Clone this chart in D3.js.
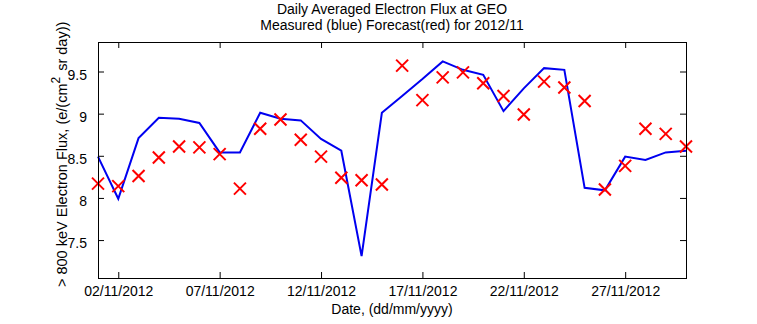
<!DOCTYPE html>
<html>
<head>
<meta charset="utf-8">
<script src="https://cdn.jsdelivr.net/npm/d3@7"></script>
<style>
  html, body { margin: 0; padding: 0; background: #fff; }
  svg { display: block; }
  text { font-family: "Liberation Sans", Arial, Helvetica, sans-serif; fill: #000; }
</style>
</head>
<body>
<svg id="chart" width="757" height="324"></svg>
<script>
// ---- data ----
const days = [1,2,3,4,5,6,7,8,9,10,11,12,13,14,15,16,17,18,19,20,21,22,23,24,25,26,27,28,29,30];
const measured = [8.49,7.99,8.71,8.95,8.94,8.89,8.54,8.54,9.01,8.94,8.92,8.70,8.56,7.31,9.01,9.21,9.41,9.62,9.52,9.46,9.03,9.30,9.54,9.52,8.12,8.09,8.49,8.45,8.54,8.56];
const forecast = [8.17,8.14,8.26,8.48,8.61,8.60,8.52,8.11,8.82,8.93,8.69,8.49,8.24,8.21,8.16,9.57,9.16,9.43,9.49,9.36,9.21,8.99,9.38,9.31,9.15,8.10,8.38,8.82,8.76,8.61];
const xTickDays = [2,7,12,17,22,27];
const xTickLabels = ["02/11/2012","07/11/2012","12/11/2012","17/11/2012","22/11/2012","27/11/2012"];
const yTicks = [7.5,8,8.5,9,9.5];
const yTickLabels = ["7.5","8","8.5","9","9.5"];
const titleLines = ["Daily Averaged Electron Flux at GEO","Measured (blue) Forecast(red) for 2012/11"];
const xLabel = "Date, (dd/mm/yyyy)";

// ---- layout ----
const L = 98, R = 686, T = 42, B = 278;
const svg = d3.select("#chart");
const dateOf = d => new Date(2012, 10, d);
const x = d3.scaleTime().domain([dateOf(1), dateOf(30)]).range([L, R]);
const y = d3.scaleLinear().domain([7.05, 9.85]).range([B, T]);
const tickLen = 6;

// axes (inward ticks, box)
const gx = svg.append("g").attr("transform", `translate(0,${B})`)
  .call(d3.axisBottom(x).tickValues(xTickDays.map(dateOf))
    .tickFormat((d,i) => xTickLabels[i]).tickSizeInner(-tickLen).tickSizeOuter(0).tickPadding(8));
const gxTop = svg.append("g").attr("transform", `translate(0,${T})`)
  .call(d3.axisTop(x).tickValues(xTickDays.map(dateOf)).tickFormat("").tickSizeInner(-tickLen).tickSizeOuter(0));
const gy = svg.append("g").attr("transform", `translate(${L},0)`)
  .call(d3.axisLeft(y).tickValues(yTicks).tickFormat((d,i) => yTickLabels[i]).tickSizeInner(-tickLen).tickSizeOuter(0).tickPadding(11));
const gyR = svg.append("g").attr("transform", `translate(${R},0)`)
  .call(d3.axisRight(y).tickValues(yTicks).tickFormat("").tickSizeInner(-tickLen).tickSizeOuter(0));

[gx, gxTop, gy, gyR].forEach(g => {
  g.select(".domain").remove();
  g.selectAll(".tick line").attr("stroke", "#000").attr("stroke-width", 1);
  g.selectAll(".tick text").attr("font-size", 14).attr("font-family", "Liberation Sans, Arial, sans-serif").attr("fill", "#000");
});
gy.selectAll(".tick text").attr("dy", "0.55em");

// data lines
const line = d3.line().x((d,i) => x(dateOf(days[i]))).y(d => y(d));
svg.append("path").datum(measured)
  .attr("d", line).attr("fill", "none").attr("stroke", "#0000f0").attr("stroke-width", 2).attr("stroke-linejoin", "miter");

const s = 6;
svg.append("g").selectAll("path").data(forecast).join("path")
  .attr("transform", (d,i) => `translate(${x(dateOf(days[i]))},${y(d)})`)
  .attr("d", `M${-s},${-s}L${s},${s}M${-s},${s}L${s},${-s}`)
  .attr("stroke", "#ff0000").attr("stroke-width", 2).attr("fill", "none");

// box
svg.append("rect").attr("x", L + 0.5).attr("y", T + 0.5).attr("width", R - L).attr("height", B - T)
  .attr("fill", "none").attr("stroke", "#000").attr("stroke-width", 1);

// titles
svg.append("text").attr("x", (L + R) / 2).attr("y", 13.5).attr("text-anchor", "middle").attr("font-size", 14).text(titleLines[0]);
svg.append("text").attr("x", (L + R) / 2).attr("y", 29.5).attr("text-anchor", "middle").attr("font-size", 14).text(titleLines[1]);

// x label
svg.append("text").attr("x", (L + R) / 2).attr("y", 314).attr("text-anchor", "middle").attr("font-size", 14).text(xLabel);

// y label with superscript (anchored at its lower end, as in the reference)
const yl = svg.append("text").attr("transform", `translate(67,287) rotate(-90)`)
  .attr("text-anchor", "start").attr("font-size", 14.5);
yl.append("tspan").text("> 800 keV Electron Flux, (e/(cm");
yl.append("tspan").attr("dy", -7).attr("font-size", 12).text("2");
yl.append("tspan").attr("dy", 7).attr("dx", 2).text("\u00a0sr day))");
</script>
</body>
</html>
